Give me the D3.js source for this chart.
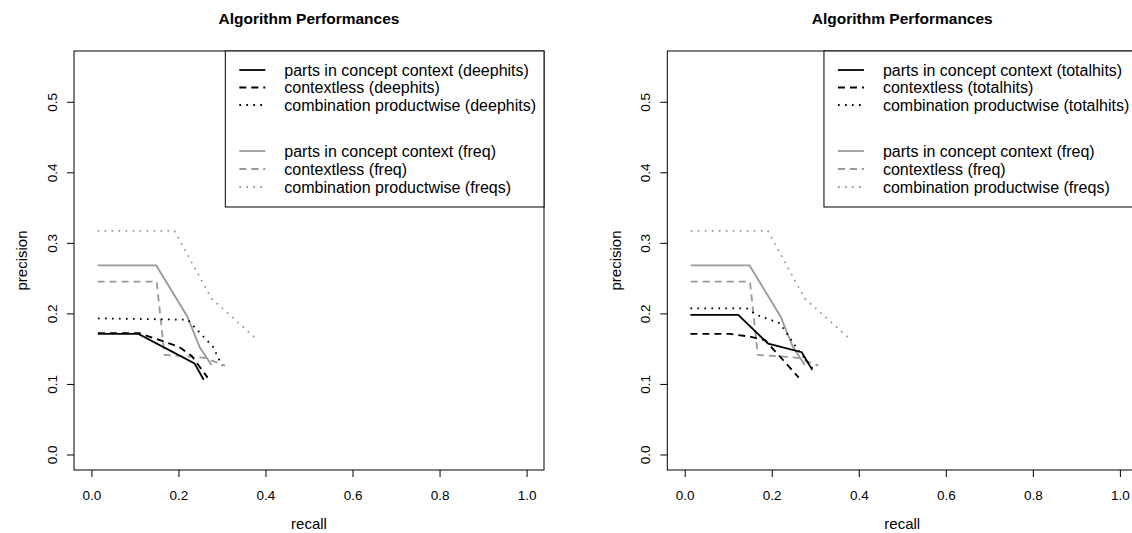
<!DOCTYPE html>
<html>
<head>
<meta charset="utf-8">
<script src="https://cdn.jsdelivr.net/npm/d3@7"></script>
<style>
  body { margin: 0; background: #fff; }
  svg { display: block; font-family: "Liberation Sans", Arial, Helvetica, sans-serif; }
</style>
</head>
<body>
<div id="chart"></div>
<script>
// axis ticks
let recallTicks = [0, 0.2, 0.4, 0.6, 0.8, 1.0];
let precisionTicks = [0, 0.1, 0.2, 0.3, 0.4, 0.5];

// deephits runs (left panel)
let deephitsContextRecall = [0.015, 0.108, 0.237, 0.258];
let deephitsContextPrecision = [0.171, 0.171, 0.129, 0.106];
let deephitsContextlessRecall = [0.015, 0.11, 0.2, 0.23, 0.267];
let deephitsContextlessPrecision = [0.172, 0.172, 0.153, 0.14, 0.109];
let deephitsComboRecall = [0.015, 0.221, 0.279, 0.3];
let deephitsComboPrecision = [0.193, 0.191, 0.153, 0.126];

// totalhits runs (right panel)
let totalhitsContextRecall = [0.013, 0.123, 0.192, 0.269, 0.293];
let totalhitsContextPrecision = [0.198, 0.198, 0.157, 0.145, 0.12];
let totalhitsContextlessRecall = [0.013, 0.104, 0.15, 0.185, 0.262];
let totalhitsContextlessPrecision = [0.171, 0.171, 0.167, 0.162, 0.109];
let totalhitsComboRecall = [0.013, 0.143, 0.165, 0.219, 0.257, 0.296];
let totalhitsComboPrecision = [0.207, 0.207, 0.198, 0.186, 0.151, 0.12];

// frequency runs (same in both panels)
let freqContextRecall = [0.014, 0.149, 0.22, 0.249, 0.276];
let freqContextPrecision = [0.268, 0.268, 0.196, 0.152, 0.127];
let freqContextlessRecall = [0.014, 0.15, 0.168, 0.22, 0.26, 0.307];
let freqContextlessPrecision = [0.245, 0.245, 0.141, 0.139, 0.137, 0.126];
let freqComboRecall = [0.014, 0.191, 0.276, 0.379];
let freqComboPrecision = [0.317, 0.317, 0.221, 0.164];

let width = 1132, height = 533;
let box = { left: 74, right: 544, top: 51, bottom: 470 };
let panelShift = 593.3;
let tickFont = 13.5;
let labelFont = 15;

let svg = d3.select("#chart").append("svg")
  .attr("width", width)
  .attr("height", height);

let dashes = { solid: null, dashed: "7,5", dotted: "1.7,5.3" };

function pairs(xs, ys) {
  return xs.map((v, i) => [v, ys[i]]);
}

function drawPanel(dx, blackRuns) {
  let g = svg.append("g").attr("transform", "translate(" + dx + ",0)");

  let x = d3.scaleLinear().domain([-0.04, 1.04]).range([box.left, box.right]);
  let y = d3.scaleLinear().domain([-0.022, 0.572]).range([box.bottom, box.top]);

  let runs = blackRuns.concat([
    { label: "parts in concept context (freq)", xs: freqContextRecall, ys: freqContextPrecision, color: "#999999", lty: "solid" },
    { label: "contextless (freq)", xs: freqContextlessRecall, ys: freqContextlessPrecision, color: "#999999", lty: "dashed" },
    { label: "combination productwise (freqs)", xs: freqComboRecall, ys: freqComboPrecision, color: "#999999", lty: "dotted" }
  ]);

  let line = d3.line().x(d => x(d[0])).y(d => y(d[1]));

  // gray first so the black ones sit on top
  let order = runs.slice(3).concat(runs.slice(0, 3));
  g.selectAll(".run").data(order).enter().append("path")
    .attr("class", "run")
    .attr("d", d => line(pairs(d.xs, d.ys)))
    .attr("fill", "none")
    .attr("stroke", d => d.color)
    .attr("stroke-width", 1.8)
    .attr("stroke-dasharray", d => dashes[d.lty]);

  // x axis
  let xAxis = g.append("g")
    .attr("transform", "translate(0," + box.bottom + ")")
    .call(d3.axisBottom(x).tickValues(recallTicks).tickFormat(d3.format(".1f")).tickSize(7).tickPadding(13));
  xAxis.select(".domain").remove();
  xAxis.selectAll("text").style("font-size", tickFont + "px").attr("fill", "#000");

  // y axis, labels turned parallel to the axis
  let yAxis = g.append("g")
    .attr("transform", "translate(" + box.left + ",0)")
    .call(d3.axisLeft(y).tickValues(precisionTicks).tickFormat(d3.format(".1f")).tickSize(7));
  yAxis.select(".domain").remove();
  yAxis.selectAll("text")
    .attr("x", null).attr("dy", "0.35em")
    .attr("text-anchor", "middle")
    .attr("transform", "translate(-22,0) rotate(-90)")
    .style("font-size", tickFont + "px").attr("fill", "#000");

  g.append("rect")
    .attr("x", box.left).attr("y", box.top)
    .attr("width", box.right - box.left).attr("height", box.bottom - box.top)
    .attr("fill", "none").attr("stroke", "#000").attr("stroke-width", 1);

  let cx = (box.left + box.right) / 2;
  g.append("text")
    .attr("x", cx).attr("y", 24)
    .attr("text-anchor", "middle")
    .style("font-size", "15.5px").style("font-weight", "bold")
    .text("Algorithm Performances");

  g.append("text")
    .attr("x", cx).attr("y", 529)
    .attr("text-anchor", "middle")
    .style("font-size", labelFont + "px")
    .text("recall");

  g.append("text")
    .attr("transform", "translate(22," + ((box.top + box.bottom) / 2) + ") rotate(-90)")
    .attr("dy", "0.35em")
    .attr("text-anchor", "middle")
    .style("font-size", labelFont + "px")
    .text("precision");

  // legend in the top right corner
  let rowY = [70, 87.5, 105, 151, 169, 187];
  let legend = g.append("g");
  let bg = legend.append("rect");
  let items = legend.selectAll(".item").data(runs).enter().append("g")
    .attr("transform", (d, i) => "translate(0," + rowY[i] + ")");
  items.append("text")
    .attr("x", 59).attr("dy", "0.35em")
    .style("font-size", "16px")
    .text(d => d.label);
  items.append("line")
    .attr("x1", 14).attr("x2", 40)
    .attr("stroke", d => d.color)
    .attr("stroke-width", 1.8)
    .attr("stroke-dasharray", d => dashes[d.lty]);

  let textW = d3.max(items.selectAll("text").nodes(), n => n.getComputedTextLength());
  let legW = 59 + textW + 8;
  legend.attr("transform", "translate(" + (box.right - legW) + ",0)");
  bg.attr("x", 0).attr("y", box.top)
    .attr("width", legW).attr("height", 207 - box.top)
    .attr("fill", "#fff").attr("stroke", "#000").attr("stroke-width", 1);
}

drawPanel(0, [
  { label: "parts in concept context (deephits)", xs: deephitsContextRecall, ys: deephitsContextPrecision, color: "#000", lty: "solid" },
  { label: "contextless (deephits)", xs: deephitsContextlessRecall, ys: deephitsContextlessPrecision, color: "#000", lty: "dashed" },
  { label: "combination productwise (deephits)", xs: deephitsComboRecall, ys: deephitsComboPrecision, color: "#000", lty: "dotted" }
]);

drawPanel(panelShift, [
  { label: "parts in concept context (totalhits)", xs: totalhitsContextRecall, ys: totalhitsContextPrecision, color: "#000", lty: "solid" },
  { label: "contextless (totalhits)", xs: totalhitsContextlessRecall, ys: totalhitsContextlessPrecision, color: "#000", lty: "dashed" },
  { label: "combination productwise (totalhits)", xs: totalhitsComboRecall, ys: totalhitsComboPrecision, color: "#000", lty: "dotted" }
]);
</script>
</body>
</html>
